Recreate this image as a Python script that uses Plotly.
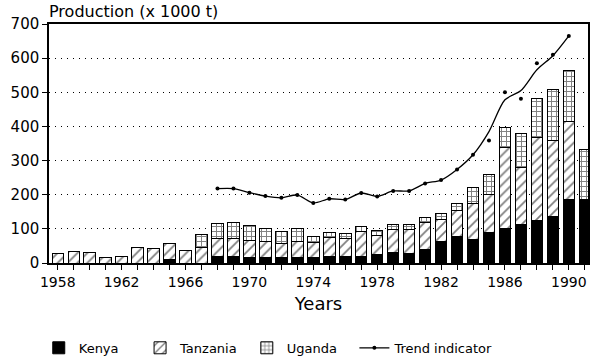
import plotly.graph_objects as go

years = list(range(1958, 1992))
kenya = [None, None, None, None, None, None, None, 10, None, None,
         18, 19, 17, 17, 16, 17, 17, 18, 19, 19,
         25, 30, 28, 40, 62, 77, 70, 89, 102, 113,
         125, 135, 186, 186]
tanzania = [27, 33, 31, 15, 19, 45, 43, 47, 36, 45,
            55, 54, 50, 45, 41, 47, 43, 57, 54, 73,
            55, 68, 70, 80, 66, 78, 104, 112, 235, 168,
            244, 224, 228, None]
uganda = [None, None, None, None, None, None, None, None, None, 39,
          44, 47, 43, 38, 36, 37, 17, 13, 13, 15,
          15, 14, 14, 14, 16, 19, 46, 57, 61, 98,
          113, 150, 150, 147]

trend_years = list(range(1968, 1991))
trend_points = [218, 218, 206, 196, 191, 199, 176, 188, 186, 205,
                195, 211, 211, 233, 243, 274, 317, 359, 500, 481,
                585, 610, 665]
trend_curve = [218, 218, 206, 196, 191, 199, 176, 188, 186, 205,
               195, 211, 211, 233, 243, 274, 317, 385, 478, 505,
               566, 607, 665]

legend_names = ["Kenya", "Tanzania", "Uganda", "Trend indicator"]
NB = "\u00a0"

FONT = "DejaVu Sans"

fig = go.Figure()
fig.add_trace(go.Bar(
    x=years, y=kenya, name=legend_names[0] + NB * 4,
    marker=dict(color="black", line=dict(color="black", width=1)),
))
fig.add_trace(go.Bar(
    x=years, y=tanzania, name=legend_names[1] + NB * 1,
    marker=dict(color="white", line=dict(color="black", width=1),
                pattern=dict(shape="/", fgcolor="black", bgcolor="white",
                             size=7, solidity=0.25)),
))
fig.add_trace(go.Bar(
    x=years, y=uganda, name=legend_names[2] + NB * 3,
    marker=dict(color="white", line=dict(color="black", width=1),
                pattern=dict(shape="+", fgcolor="black", bgcolor="white",
                             size=5, solidity=0.35)),
))
fig.add_trace(go.Scatter(
    x=trend_years, y=trend_curve, mode="lines", showlegend=False,
    line=dict(color="black", width=1.3, shape="spline", smoothing=0.8),
    hoverinfo="skip",
))
fig.add_trace(go.Scatter(
    x=trend_years, y=trend_points, mode="markers", showlegend=False,
    marker=dict(color="black", size=4),
))
fig.add_trace(go.Scatter(
    x=[None], y=[None], mode="lines+markers", name=legend_names[3],
    line=dict(color="black", width=1.3),
    marker=dict(color="black", size=4),
))

fig.update_layout(
    barmode="stack",
    bargap=0.28,
    width=600, height=360,
    margin=dict(l=49, r=12, t=24, b=97, autoexpand=False),
    paper_bgcolor="white", plot_bgcolor="white",
    font=dict(family=FONT, size=14, color="black"),
    showlegend=True,
    legend=dict(orientation="h", x=-0.019, xanchor="left",
                y=-0.355, yanchor="middle",
                font=dict(family=FONT, size=13),
                traceorder="normal"),
    annotations=[dict(text="Production (x 1000 t)", xref="paper", yref="paper",
                      x=-0.004, y=1.053, xanchor="left", yanchor="middle",
                      showarrow=False, font=dict(family=FONT, size=16))],
)
fig.update_xaxes(
    range=[1957.45, 1991.2],
    tickmode="linear", tick0=1958, dtick=4,
    ticks="outside", ticklen=5, tickcolor="black", tickwidth=1,
    minor=dict(dtick=1, tick0=1958, ticks="outside", ticklen=5,
               tickcolor="black", tickwidth=1, showgrid=False),
    showline=True, linecolor="black", linewidth=1.5, mirror=True,
    showgrid=False, zeroline=False,
    tickfont=dict(family=FONT, size=14),
    title=dict(text="Years", font=dict(family=FONT, size=18), standoff=9),
)
fig.update_yaxes(
    range=[0, 700], tickmode="linear", tick0=0, dtick=100,
    ticks="outside", ticklen=5, tickcolor="black", tickwidth=1,
    showline=True, linecolor="black", linewidth=1.5, mirror=True,
    showgrid=True, gridcolor="black", gridwidth=1, griddash="1px,5px",
    zeroline=False,
    tickfont=dict(family=FONT, size=15),
)

fig.write_html("out.html",
               config={"displayModeBar": False},
               post_script="document.body.style.margin='0';"
                           "document.body.style.overflow='hidden';")
